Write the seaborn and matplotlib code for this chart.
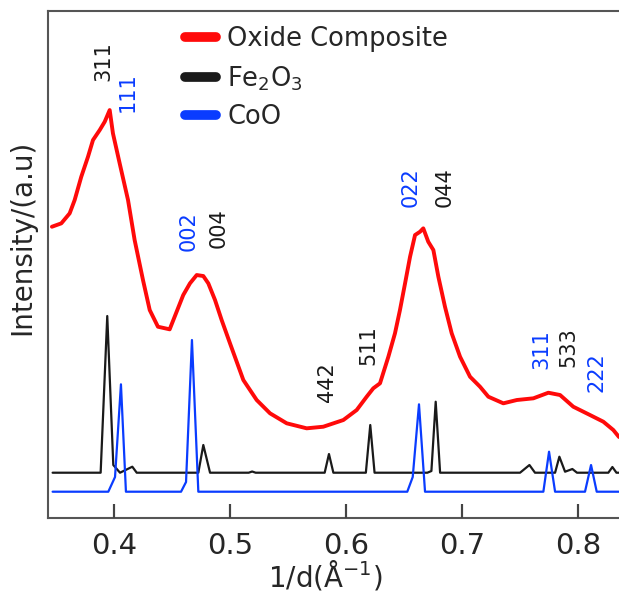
import pandas as pd
import seaborn as sns
import matplotlib.pyplot as plt

# Oxide composite (red)
red_x = [0.3464, 0.3545, 0.3617, 0.3660, 0.3717, 0.3775, 0.3818, 0.3876, 0.3919, 0.3962,
         0.3990, 0.4048, 0.4120, 0.4177, 0.4249, 0.4307, 0.4378, 0.4479, 0.4539, 0.4596,
         0.4654, 0.4712, 0.4769, 0.4812, 0.4870, 0.4927, 0.4999, 0.5114, 0.5229, 0.5344,
         0.5488, 0.5660, 0.5803, 0.5976, 0.6091, 0.6177, 0.6234, 0.6292, 0.6364, 0.6421,
         0.6464, 0.6508, 0.6551, 0.6594, 0.6637, 0.6665, 0.6708, 0.6752, 0.6795, 0.6852,
         0.6910, 0.6982, 0.7068, 0.7154, 0.7226, 0.7355, 0.7471, 0.7614, 0.7743, 0.7844,
         0.7958, 0.8102, 0.8217, 0.8303, 0.8352]
red_y = [291.3, 294.7, 304.7, 318.0, 341.3, 361.3, 378.0, 388.0, 396.3, 408.0,
         384.7, 354.7, 318.0, 278.0, 238.0, 208.0, 191.3, 188.7, 206.3, 223.0,
         234.7, 243.0, 242.0, 234.7, 218.0, 198.0, 174.7, 138.0, 118.0, 104.7,
         94.7, 89.7, 91.3, 98.0, 108.0, 121.3, 129.7, 134.7, 161.3, 184.7,
         208.0, 234.7, 261.3, 283.0, 286.3, 289.7, 276.3, 268.0, 241.3, 211.3,
         184.7, 161.3, 141.3, 131.3, 121.3, 114.7, 118.0, 119.7, 125.3, 123.0,
         111.3, 103.0, 96.3, 88.0, 81.0]

# Fe2O3 reference pattern (black)
fe_x = [0.347, 0.3884, 0.3941, 0.3993, 0.4051, 0.4157, 0.4195, 0.4726, 0.4769, 0.4827,
        0.516, 0.519, 0.522, 0.5815, 0.5852, 0.589, 0.617, 0.6208, 0.6245, 0.670,
        0.6735, 0.6772, 0.681, 0.7499, 0.758, 0.7628, 0.7801, 0.7838, 0.7887, 0.795,
        0.799, 0.826, 0.8295, 0.833, 0.836]
fe_y = [45.3, 45.3, 202.0, 53.0, 45.3, 51.3, 45.3, 45.3, 73.0, 45.3,
        45.3, 46.5, 45.3, 45.3, 64.0, 45.3, 45.3, 93.0, 45.3, 45.3,
        47.0, 116.3, 45.3, 45.3, 53.0, 45.3, 45.3, 61.3, 46.3, 49.0,
        45.3, 45.3, 51.0, 45.3, 45.3]

# CoO reference pattern (blue)
coo_x = [0.347, 0.395, 0.4008, 0.4059, 0.4102, 0.4577, 0.462, 0.4671, 0.4726, 0.6527,
         0.6574, 0.6628, 0.668, 0.770, 0.7749, 0.7801, 0.8059, 0.8111, 0.816, 0.836]
coo_y = [26.3, 26.3, 41.0, 133.7, 26.3, 26.3, 36.0, 178.0, 26.3, 26.3,
         41.0, 113.7, 26.3, 26.3, 66.3, 26.3, 26.3, 53.0, 26.3, 26.3]

# peak index labels
fe_labels = ['311', '004', '442', '511', '044', '533']
fe_label_pos = [(0.3907, 457), (0.4898, 290), (0.5833, 135.5), (0.6191, 173), (0.6846, 331), (0.7915, 170.5)]
coo_labels = ['111', '002', '022', '311', '222']
coo_label_pos = [(0.4117, 425.5), (0.4639, 287), (0.6559, 331), (0.7686, 169), (0.8154, 145.5)]

xtick_vals = [0.4, 0.5, 0.6, 0.7, 0.8]

RED = '#ff0a0a'
BLACK = '#1a1a1a'
BLUE = '#0a3cff'

sns.set_style('ticks')
plt.rcParams['font.family'] = ['DejaVu Sans']
plt.rcParams['mathtext.default'] = 'regular'

fig = plt.figure(figsize=(6.19, 5.95), dpi=100)
ax = fig.add_axes([0.0775, 0.1294, 0.9225, 0.852])

red_df = pd.DataFrame({'x': red_x, 'y': red_y})
fe_df = pd.DataFrame({'x': fe_x, 'y': fe_y})
coo_df = pd.DataFrame({'x': coo_x, 'y': coo_y})

sns.lineplot(data=red_df, x='x', y='y', color=RED, lw=2.8, estimator=None, label='Oxide Composite', ax=ax)
sns.lineplot(data=fe_df, x='x', y='y', color=BLACK, lw=1.6, estimator=None, label=r'Fe$_2$O$_3$', ax=ax)
sns.lineplot(data=coo_df, x='x', y='y', color=BLUE, lw=1.6, estimator=None, label='CoO', ax=ax)

for lab, (lx, ly) in zip(fe_labels, fe_label_pos):
    ax.text(lx, ly, lab, rotation=90, ha='center', va='center', fontsize=15, color=BLACK)
for lab, (lx, ly) in zip(coo_labels, coo_label_pos):
    ax.text(lx, ly, lab, rotation=90, ha='center', va='center', fontsize=15, color=BLUE)

ax.set_xlim(0.343, 0.8352)
ax.set_ylim(0, 507)
ax.set_xlabel('1/d(Å$^{-1}$)', fontsize=20)
ax.xaxis.set_label_coords(0.485, -0.08)
ax.set_ylabel('Intensity/(a.u)', fontsize=20)
ax.yaxis.set_label_coords(-0.02, 0.554)

for side in ['left', 'top', 'bottom']:
    ax.spines[side].set_color('#555555')
    ax.spines[side].set_linewidth(1.5)
ax.spines['right'].set_visible(False)

leg = ax.legend(loc='upper left', bbox_to_anchor=(0.213, 1.0), frameon=False, fontsize=18.5,
                handlelength=1.2, handletextpad=0.45, labelspacing=0.45, borderaxespad=0.2)
for line in leg.get_lines():
    line.set_linewidth(7)

# bottom ticks: labels from the axis, inward marks drawn on the axis transform
ax.set_yticks([])
ax.set_xticks(xtick_vals)
ax.tick_params(axis='x', which='major', direction='in', length=10, width=1.5, color='#444444',
               labelsize=21, pad=10, bottom=True, top=False)
ax.vlines(xtick_vals, 0, 0.027, transform=ax.get_xaxis_transform(),
          colors='#444444', linewidth=1.5, zorder=5, clip_on=False)

plt.savefig('out.png', dpi=100)
plt.close()
